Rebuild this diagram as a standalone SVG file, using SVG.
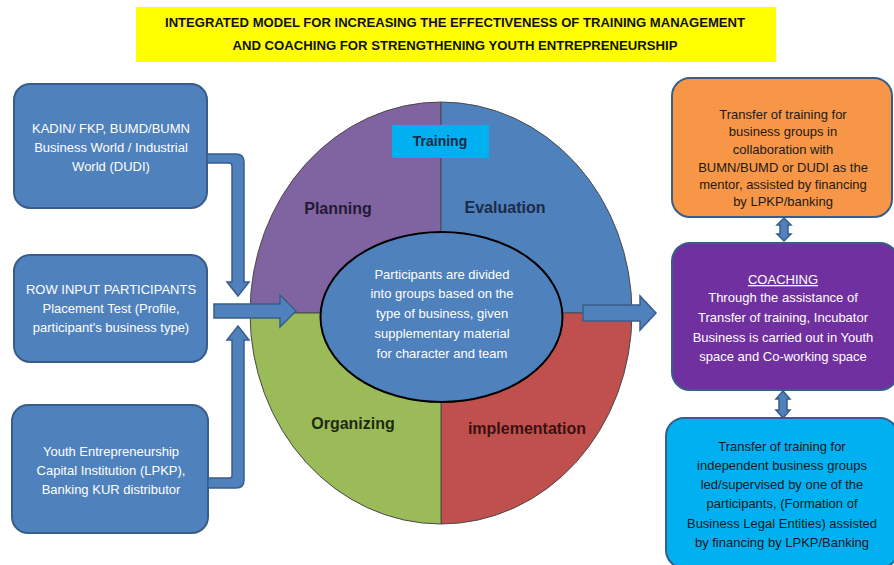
<svg xmlns="http://www.w3.org/2000/svg" width="894" height="565" viewBox="0 0 894 565">
<style>
text{font-family:"Liberation Sans",Arial,sans-serif;text-anchor:middle}
.lb{fill:#4F81BD;stroke:#385D8A;stroke-width:2}
.wt{fill:#fff;font-size:13px}
.dk{fill:#1a1a1a;font-size:13px}
.q{stroke:#4a4a4a;stroke-width:1}
.ql{font-size:16px;font-weight:bold}
.arr{fill:#4F81BD;stroke:#385D8A;stroke-width:1.5;stroke-linejoin:miter}
</style>
<rect width="894" height="565" fill="#fff"/>
<g id="title">
<rect x="136" y="7" width="640" height="55" fill="#FFFF00"/>
<text x="455" y="27" font-size="12.5" font-weight="bold" fill="#111" textLength="580" lengthAdjust="spacingAndGlyphs">INTEGRATED MODEL FOR INCREASING THE EFFECTIVENESS OF TRAINING MANAGEMENT</text>
<text x="455" y="50" font-size="12.5" font-weight="bold" fill="#111" textLength="445" lengthAdjust="spacingAndGlyphs">AND COACHING  FOR STRENGTHENING YOUTH ENTREPRENEURSHIP</text>
</g>
<g id="circle">
<path class="q" fill="#8064A2" d="M441,313 L441,102 A191,211 0 0 0 250,313 Z"/>
<path class="q" fill="#4F81BD" d="M441,313 L441,102 A191,211 0 0 1 632,313 Z"/>
<path class="q" fill="#C0504D" d="M441,313 L632,313 A191,211 0 0 1 441,524 Z"/>
<path class="q" fill="#9BBB59" d="M441,313 L441,524 A191,211 0 0 1 250,313 Z"/>
<text class="ql" x="338" y="214" fill="#231a33">Planning</text>
<text class="ql" x="505" y="213" fill="#1c2a48">Evaluation</text>
<text class="ql" x="353" y="429" fill="#1d2a10">Organizing</text>
<text class="ql" x="527" y="434" fill="#3a1010">implementation</text>
</g>
<g id="training">
<rect x="392" y="125" width="97" height="33" fill="#00B0F0"/>
<text x="440" y="146" font-size="14" font-weight="bold" fill="#1c2a48">Training</text>
</g>
<g id="center">
<ellipse cx="441.5" cy="317" rx="121" ry="85" fill="#4F81BD" stroke="#000" stroke-width="2"/>
<text class="wt" x="442" y="279">Participants are divided</text>
<text class="wt" x="442" y="298">into groups based on the</text>
<text class="wt" x="442" y="318">type of business, given</text>
<text class="wt" x="442" y="338">supplementary material</text>
<text class="wt" x="442" y="358">for character and team</text>
</g>
<g id="box-kadin">
<rect class="lb" x="14" y="84" width="193" height="124" rx="16"/>
<text class="wt" x="111" y="133">KADIN/ FKP, BUMD/BUMN</text>
<text class="wt" x="111" y="152">Business World / Industrial</text>
<text class="wt" x="111" y="171">World (DUDI)</text>
</g>
<g id="box-input">
<rect class="lb" x="14" y="255" width="193" height="107" rx="16"/>
<text class="wt" x="111" y="294">ROW INPUT PARTICIPANTS</text>
<text class="wt" x="111" y="313">Placement Test (Profile,</text>
<text class="wt" x="111" y="332">participant's business type)</text>
</g>
<g id="box-lpkp">
<rect class="lb" x="12" y="405" width="196" height="128" rx="16"/>
<text class="wt" x="111" y="456">Youth Entrepreneurship</text>
<text class="wt" x="111" y="475">Capital Institution (LPKP),</text>
<text class="wt" x="111" y="494">Banking KUR distributor</text>
</g>
<g id="box-orange">
<rect x="672" y="78" width="220" height="139" rx="18" fill="#F79646" stroke="#385D8A" stroke-width="2"/>
<text class="dk" x="783" y="119">Transfer of training for</text>
<text class="dk" x="783" y="136">business groups in</text>
<text class="dk" x="783" y="154">collaboration with</text>
<text class="dk" x="783" y="172">BUMN/BUMD  or DUDI as the</text>
<text class="dk" x="783" y="189">mentor, assisted by financing</text>
<text class="dk" x="783" y="206">by LPKP/banking</text>
</g>
<g id="box-coaching">
<rect x="672" y="243" width="226" height="147" rx="18" fill="#7030A0" stroke="#385D8A" stroke-width="2"/>
<text class="wt" x="783" y="284" text-decoration="underline">COACHING</text>
<text class="wt" x="783" y="302">Through the assistance of</text>
<text class="wt" x="783" y="322">Transfer of training, Incubator</text>
<text class="wt" x="783" y="342">Business is carried out in Youth</text>
<text class="wt" x="783" y="361">space and Co-working space</text>
</g>
<g id="box-cyan">
<rect x="666" y="418" width="232" height="150" rx="18" fill="#00B0F0" stroke="#385D8A" stroke-width="2"/>
<text class="dk" x="782" y="451">Transfer of training for</text>
<text class="dk" x="782" y="470">independent business groups</text>
<text class="dk" x="782" y="489">led/supervised by one of the</text>
<text class="dk" x="782" y="508">participants, (Formation of</text>
<text class="dk" x="782" y="528">Business Legal Entities) assisted</text>
<text class="dk" x="782" y="547">by financing by LPKP/Banking</text>
</g>
<g id="connectors">
<path class="arr" d="M207,154 L236,154 Q244,154 244,162 L244,282 L249,282 L238,296 L227,282 L232,282 L232,166 Q232,163 229,163 L207,163 Z"/>
<path class="arr" d="M208,488 L236,488 Q244,488 244,480 L244,340 L249,340 L238,326 L227,340 L232,340 L232,476 Q232,478 229,478 L208,478 Z"/>
<path class="arr" d="M214,304 L280,304 L280,295 L296,311 L280,327 L280,318 L214,318 Z"/>
<path class="arr" d="M583,305 L640,305 L640,296 L656,313 L640,330 L640,321 L583,321 Z"/>
<path class="arr" d="M784,218 L791,225 L788,225 L788,234 L791,234 L784,241 L777,234 L780,234 L780,225 L777,225 Z"/>
<path class="arr" d="M783,391 L790,399 L787,399 L787,410 L790,410 L783,418 L776,410 L779,410 L779,399 L776,399 Z"/>
</g>
</svg>
